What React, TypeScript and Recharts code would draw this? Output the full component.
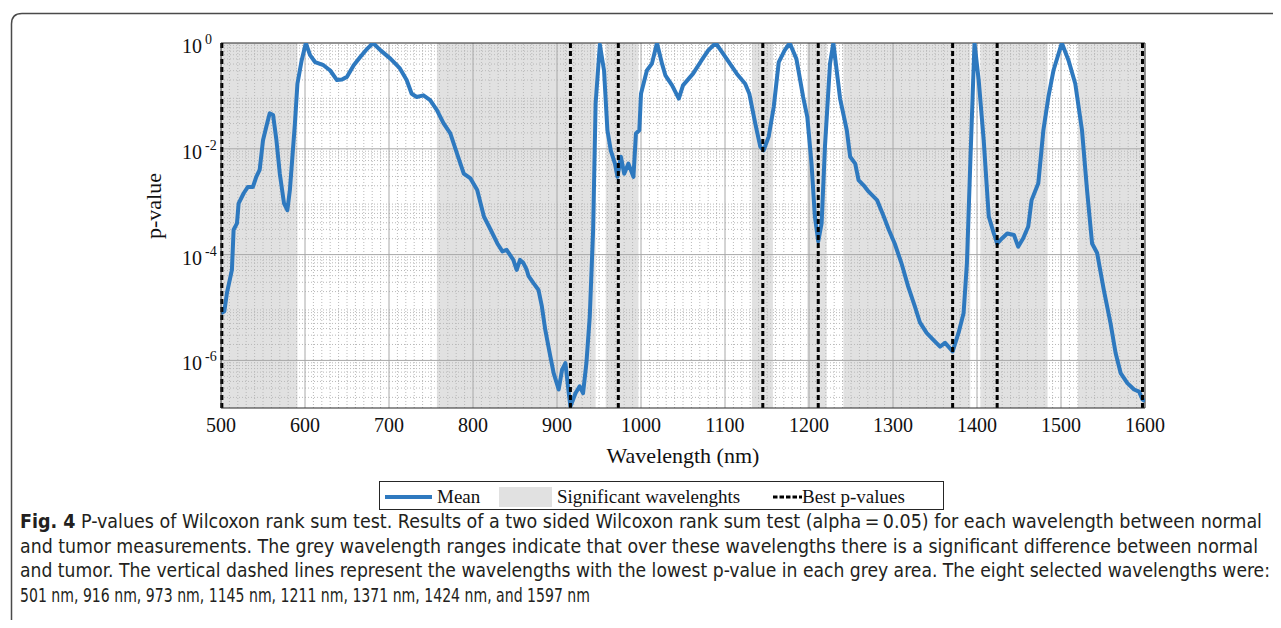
import React from 'react';
import { ComposedChart, Line, XAxis, YAxis, ReferenceArea, ReferenceLine } from 'recharts';

const wavelengths = [
  500, 504, 507, 513, 515, 519, 521, 527, 532, 538, 542, 546, 550, 554, 558, 562, 566, 570, 575, 579,
  582, 588, 591, 596, 601, 606, 612, 622, 630, 638, 644, 650, 658, 666, 674, 681, 690, 702, 713, 721,
  727, 733, 741, 749, 757, 765, 773, 781, 789, 797, 805, 813, 821, 829, 835, 840, 848, 852, 856, 860,
  864, 866, 872, 878, 882, 886, 892, 896, 902, 906, 910, 914, 916, 922, 927, 931, 935, 939, 943, 946,
  951, 956, 960, 964, 969, 972, 976, 980, 985, 991, 994, 998, 1000, 1007, 1013, 1019, 1025, 1029, 1037, 1045,
  1050, 1062, 1072, 1080, 1089, 1102, 1114, 1124, 1129, 1136, 1142, 1146, 1152, 1158, 1164, 1171, 1177, 1185, 1193, 1198,
  1203, 1207, 1211, 1215, 1219, 1225, 1229, 1237, 1245, 1249, 1255, 1259, 1265, 1271, 1281, 1289, 1295, 1302, 1310, 1318,
  1326, 1332, 1340, 1348, 1356, 1362, 1371, 1378, 1384, 1388, 1392, 1397, 1402, 1408, 1414, 1420, 1424, 1430, 1436, 1444,
  1449, 1455, 1461, 1465, 1473, 1479, 1485, 1491, 1501, 1509, 1517, 1525, 1531, 1537, 1543, 1551, 1559, 1565, 1571, 1579,
  1587, 1593, 1597, 1600,
];

// log10 of the mean p-value at each wavelength
const log10P = [
  -5.11, -5.07, -4.73, -4.29, -3.53, -3.41, -3.03, -2.84, -2.72, -2.72, -2.53, -2.40, -1.84, -1.58, -1.33, -1.36, -1.84, -2.47, -3.03, -3.16,
  -2.78, -1.52, -0.77, -0.33, 0.0, -0.23, -0.36, -0.42, -0.52, -0.70, -0.69, -0.64, -0.42, -0.26, -0.11, 0.0, -0.14, -0.30, -0.48, -0.70,
  -0.96, -1.02, -0.99, -1.08, -1.27, -1.52, -1.71, -2.09, -2.47, -2.56, -2.78, -3.28, -3.53, -3.79, -3.94, -3.91, -4.10, -4.29, -4.10, -4.16,
  -4.29, -4.40, -4.54, -4.67, -4.98, -5.42, -5.92, -6.24, -6.55, -6.18, -6.05, -6.62, -6.87, -6.62, -6.49, -6.62, -6.05, -5.17, -3.53, -1.14,
  -0.03, -0.52, -1.65, -2.03, -2.28, -2.53, -2.15, -2.47, -2.28, -2.53, -1.71, -1.65, -0.96, -0.52, -0.39, 0.0, -0.39, -0.61, -0.80, -1.05,
  -0.80, -0.58, -0.33, -0.14, 0.0, -0.30, -0.58, -0.77, -0.96, -1.52, -1.96, -2.03, -1.77, -1.21, -0.36, -0.14, 0.0, -0.30, -1.02, -1.40,
  -2.28, -3.28, -3.75, -3.41, -1.96, -0.39, 0.0, -1.05, -1.65, -2.15, -2.28, -2.59, -2.69, -2.81, -2.97, -3.28, -3.53, -3.79, -4.16, -4.60,
  -4.98, -5.28, -5.48, -5.61, -5.74, -5.67, -5.83, -5.48, -5.11, -4.16, -2.28, 0.0, -0.70, -1.84, -3.28, -3.60, -3.79, -3.69, -3.60, -3.63,
  -3.85, -3.69, -3.47, -2.97, -2.65, -1.65, -1.02, -0.52, 0.0, -0.33, -0.77, -1.65, -2.78, -3.79, -3.97, -4.67, -5.30, -5.86, -6.24, -6.43,
  -6.55, -6.59, -6.74, -6.77,
];

const bandStarts = [500, 757, 958, 1132, 1198, 1241, 1404, 1520];
const bandEnds = [591, 946, 997, 1157, 1221, 1392, 1484, 1600];
const bestWavelengths = [501, 916, 973, 1145, 1211, 1371, 1424, 1597];
const xTicks = [500, 600, 700, 800, 900, 1000, 1100, 1200, 1300, 1400, 1500, 1600];
const yTicks = [1e-6, 1e-4, 1e-2, 1];
const yMin = 1.26e-7;

const data = wavelengths.map((w, i) => ({ wl: w, p: Math.pow(10, log10P[i]) }));

const xMinor: number[] = [];
for (let v = 510; v < 1600; v += 10) if (v % 100 !== 0) xMinor.push(v);
const yMinor: number[] = [];
for (let e = -7; e <= -1; e++) for (let m = 2; m <= 9; m++) {
  const v = m * Math.pow(10, e);
  if (v > yMin && v < 1) yMinor.push(v);
}
const yMajorGrid = [1e-6, 1e-4, 1e-2];

const SERIF = '"Liberation Serif", "Times New Roman", serif';
const CAPTION_FONT = '"Liberation Sans Narrow", "DejaVu Sans Condensed", "Noto Sans", sans-serif';
const BLUE = '#2e79bf';
const GREY = '#e1e1e1';

const XTick = (props: any) => {
  const { x, y, payload } = props;
  return (
    <text x={x} y={y + 23.5} textAnchor="middle" fontFamily={SERIF} fontSize={20} fill="#111">
      {payload.value}
    </text>
  );
};

const YTick = (props: any) => {
  const { x, y, payload } = props;
  const e = Math.round(Math.log10(payload.value));
  return (
    <text x={x - 39} y={y + 10} fontFamily={SERIF} fontSize={20} fill="#111">
      10
      <tspan dx={3} dy={-9} fontSize={14}>{e === 0 ? '0' : String(e)}</tspan>
    </text>
  );
};

const captionLines = [
  { bold: 'Fig. 4', text: '  P-values of Wilcoxon rank sum test. Results of a two sided Wilcoxon rank sum test (alpha\u2009=\u20090.05) for each wavelength between normal', end: 1262 },
  { bold: '', text: 'and tumor measurements. The grey wavelength ranges indicate that over these wavelengths there is a significant difference between normal', end: 1258 },
  { bold: '', text: 'and tumor. The vertical dashed lines represent the wavelengths with the lowest p-value in each grey area. The eight selected wavelengths were:', end: 1270 },
  { bold: '', text: '501 nm, 916 nm, 973 nm, 1145 nm, 1211 nm, 1371 nm, 1424 nm, and 1597 nm', end: 590 },
];
const captionBaselines = [528, 553, 577, 602];

export default function App() {
  return (
    <div style={{ position: 'relative', width: 1281, height: 628, margin: -8, background: '#fff', overflow: 'hidden' }}>
      <div style={{ position: 'absolute', left: 0, top: 0 }}>
        <ComposedChart width={1281} height={470} data={data} margin={{ top: 43, right: 136, bottom: 0, left: 0 }}>
          <XAxis
            dataKey="wl"
            type="number"
            domain={[500, 1600]}
            ticks={xTicks}
            interval={0}
            height={62}
            tickSize={0}
            tickMargin={0}
            tick={<XTick />}
            axisLine={{ stroke: '#262626', strokeWidth: 1 }}
            allowDataOverflow
            label={{ value: 'Wavelength (nm)', position: 'insideBottom', offset: 7, fontFamily: SERIF, fontSize: 22, fill: '#111' }}
          />
          <YAxis
            type="number"
            scale="log"
            domain={[yMin, 1]}
            ticks={yTicks}
            interval={0}
            width={221}
            tickSize={0}
            tickMargin={0}
            tick={<YTick />}
            axisLine={{ stroke: '#262626', strokeWidth: 1 }}
            allowDataOverflow
          />
          {bandStarts.map((s, i) => (
            <ReferenceArea key={'b' + i} x1={s} x2={bandEnds[i]} y1={yMin} y2={1} fill={GREY} fillOpacity={1} stroke="none" ifOverflow="hidden" />
          ))}
          {xMinor.map((v) => (
            <ReferenceLine key={'xm' + v} x={v} stroke="#b9b9b9" strokeWidth={1} strokeDasharray="1 2" />
          ))}
          {yMinor.map((v) => (
            <ReferenceLine key={'ym' + v} y={v} stroke="#b9b9b9" strokeWidth={1} strokeDasharray="1 2" />
          ))}
          {xTicks.slice(1, -1).map((v) => (
            <ReferenceLine key={'xM' + v} x={v} stroke="#a8a8a8" strokeWidth={1} />
          ))}
          {yMajorGrid.map((v) => (
            <ReferenceLine key={'yM' + v} y={v} stroke="#a8a8a8" strokeWidth={1} />
          ))}
          <ReferenceLine y={1} stroke="#262626" strokeWidth={1} />
          <ReferenceLine x={1600} stroke="#262626" strokeWidth={1} />
          <Line type="linear" dataKey="p" stroke={BLUE} strokeWidth={4} dot={false} isAnimationActive={false} strokeLinejoin="round" />
          {bestWavelengths.map((w) => (
            <ReferenceLine key={'best' + w} x={w} stroke="#000" strokeWidth={3} strokeDasharray="5 3" />
          ))}
        </ComposedChart>
      </div>
      <svg width={1281} height={628} style={{ position: 'absolute', left: 0, top: 0, pointerEvents: 'none' }}>
        <path d="M 11.5 640 L 11.5 24 Q 11.5 13.5 22 13.5 L 1300 13.5" fill="none" stroke="#4a4a4a" strokeWidth={1.5} />
        <text transform="translate(161, 206) rotate(-90)" textAnchor="middle" fontFamily={SERIF} fontSize={22} fill="#111">p-value</text>
        {/* legend */}
        <rect x={379.5} y={481.5} width={564} height={28} fill="#fff" stroke="#262626" strokeWidth={1} />
        <line x1={385} y1={497} x2={432} y2={497} stroke={BLUE} strokeWidth={4} />
        <text x={437} y={503} fontFamily={SERIF} fontSize={19} fill="#111">Mean</text>
        <rect x={499} y={487} width={53} height={20} fill={GREY} />
        <text x={557} y={503} fontFamily={SERIF} fontSize={19} fill="#111">Significant wavelenghts</text>
        <line x1={773} y1={497} x2={802} y2={497} stroke="#000" strokeWidth={3} strokeDasharray="4.5 2" />
        <text x={802} y={503} fontFamily={SERIF} fontSize={19} fill="#111">Best p-values</text>
        {/* caption */}
        {captionLines.map((l, i) => (
          <text key={i} x={20} y={captionBaselines[i]} fontFamily={CAPTION_FONT} fontSize={19} fill="#231f20" textLength={l.end - 20} lengthAdjust="spacingAndGlyphs">
            {l.bold ? <tspan fontWeight="bold">{l.bold}</tspan> : null}
            {l.text}
          </text>
        ))}
      </svg>
    </div>
  );
}
